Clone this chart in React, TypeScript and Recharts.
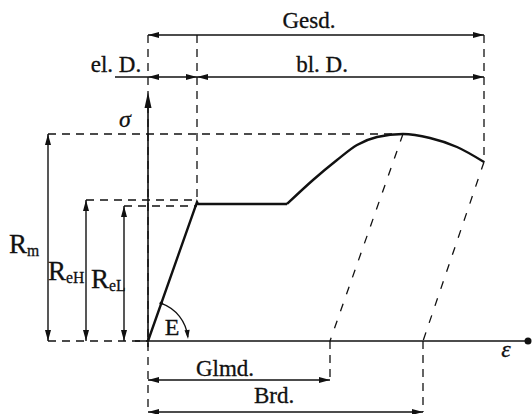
import { ComposedChart, Line, XAxis, YAxis, ReferenceLine, ReferenceDot } from 'recharts';

// Spannungs-Dehnungs-Diagramm (strain in arbitrary units, stress in arbitrary units)
const elasticStrain = [0, 4.9, 5.0, 13.9];
const elasticStress = [0, 139, 137, 137];

const hardeningStrain = [13.9, 16.5, 18.9, 20.9, 22.9, 25.5, 28.2, 30.9, 33.6];
const hardeningStress = [137, 161, 181, 196, 204, 207, 203, 194, 179];

// characteristic values
const R_M = 207;
const R_EH = 141;
const R_EL = 135;
const EPS_ELASTIC = 4.9;
const EPS_PEAK = 25.5;
const EPS_FRACTURE = 33.6;
const STRESS_FRACTURE = 179;
const EPS_UNIFORM = 18.2; // Gleichmaßdehnung
const EPS_BREAK = 27.5; // Bruchdehnung

// where the dimension lines sit
const LVL_GESD = 306;
const LVL_PARTS = 264;
const LVL_GLMD = -39;
const LVL_BRD = -71;
const X_RM = -10;
const X_REH = -6.2;
const X_REL = -2.4;

const elasticData = elasticStrain.map((eps, i) => ({ eps, sig: elasticStress[i] }));
const hardeningData = hardeningStrain.map((eps, i) => ({ eps, sig: hardeningStress[i] }));

const FONT = '"Liberation Serif", "Times New Roman", serif';
const INK = '#111';

function arrowHead(x: number, y: number, fx: number, fy: number, len = 11, w = 3) {
  const dx = x - fx;
  const dy = y - fy;
  const d = Math.hypot(dx, dy) || 1;
  const ux = dx / d;
  const uy = dy / d;
  const bx = x - ux * len;
  const by = y - uy * len;
  return `${x},${y} ${bx - uy * w},${by + ux * w} ${bx + uy * w},${by - ux * w}`;
}

function DimLine(props: any) {
  const { x1, y1, x2, y2, ends = 'both' } = props;
  return (
    <g>
      <line x1={x1} y1={y1} x2={x2} y2={y2} stroke={INK} strokeWidth={1.4} />
      {(ends === 'both' || ends === 'start') && (
        <polygon points={arrowHead(x1, y1, x2, y2)} fill={INK} />
      )}
      {(ends === 'both' || ends === 'end') && (
        <polygon points={arrowHead(x2, y2, x1, y1)} fill={INK} />
      )}
    </g>
  );
}

function AxisY(props: any) {
  const { x1, y1, x2, y2 } = props;
  return (
    <g>
      <line x1={x1} y1={y1} x2={x2} y2={y2 + 4} stroke={INK} strokeWidth={1.6} />
      <polygon points={arrowHead(x2, y2, x1, y1, 16, 3.5)} fill={INK} />
    </g>
  );
}

function AxisX(props: any) {
  const { x1, y1, x2, y2 } = props;
  return (
    <g>
      <line x1={x1} y1={y1} x2={x2} y2={y2} stroke={INK} strokeWidth={1.6} />
      <circle cx={x2} cy={y2} r={3.5} fill={INK} />
    </g>
  );
}

// E-modulus arc between Hooke line and strain axis
function ModulusArc(props: any) {
  const { x1, y1, x2, y2 } = props;
  const r = 40;
  const a0 = Math.atan2(y2 - y1, x2 - x1);
  const a1 = -0.1;
  const sx = x1 + r * Math.cos(a0);
  const sy = y1 + r * Math.sin(a0);
  const ex = x1 + r * Math.cos(a1);
  const ey = y1 + r * Math.sin(a1);
  const tx = -Math.sin(a1);
  const ty = Math.cos(a1);
  return (
    <g>
      <path d={`M${sx},${sy} A${r},${r} 0 0 1 ${ex},${ey}`} fill="none" stroke={INK} strokeWidth={1.3} />
      <circle cx={sx} cy={sy} r={1.8} fill={INK} />
      <polygon points={arrowHead(ex + tx * 2, ey + ty * 2, ex - tx * 5, ey - ty * 5, 9, 2.6)} fill={INK} />
    </g>
  );
}

const dashed = { stroke: INK, strokeWidth: 1.3, strokeDasharray: '8 6' };

function Label({ x, y, text, sub, size = 23, italic = false, anchor = 'middle' }: any) {
  return (
    <ReferenceDot
      x={x}
      y={y}
      r={0}
      ifOverflow="visible"
      shape={(p: any) => (
        <text
          x={p.cx}
          y={p.cy}
          textAnchor={anchor}
          fontFamily={FONT}
          fontSize={size}
          fontStyle={italic ? 'italic' : 'normal'}
          fill={INK}
          stroke={INK}
          strokeWidth={0.3}
        >
          {text}
          {sub && (
            <tspan fontSize={size * 0.58} dy={3}>
              {sub}
            </tspan>
          )}
        </text>
      )}
    />
  );
}

export default function App() {
  return (
    <div style={{ position: 'absolute', left: 0, top: 0, background: '#fff' }}>
      <ComposedChart width={532} height={414} margin={{ top: 0, right: 0, bottom: 0, left: 0 }}>
        <XAxis type="number" dataKey="eps" domain={[-14.8, 38.4]} hide allowDataOverflow />
        <YAxis type="number" dataKey="sig" domain={[-73, 341]} hide allowDataOverflow width={0} />

        {/* construction lines */}
        <ReferenceLine segment={[{ x: 0, y: LVL_GESD }, { x: 0, y: LVL_BRD }]} {...dashed} />
        <ReferenceLine segment={[{ x: EPS_ELASTIC, y: LVL_GESD }, { x: EPS_ELASTIC, y: R_EL + 2 }]} {...dashed} />
        <ReferenceLine segment={[{ x: EPS_FRACTURE, y: LVL_GESD }, { x: EPS_FRACTURE, y: STRESS_FRACTURE }]} {...dashed} />
        <ReferenceLine segment={[{ x: X_RM, y: R_M }, { x: EPS_PEAK, y: R_M }]} {...dashed} />
        <ReferenceLine segment={[{ x: X_REH, y: R_EH }, { x: EPS_ELASTIC, y: R_EH }]} {...dashed} />
        <ReferenceLine segment={[{ x: X_REL, y: R_EL }, { x: EPS_ELASTIC, y: R_EL }]} {...dashed} />
        <ReferenceLine segment={[{ x: X_RM, y: 0 }, { x: 0, y: 0 }]} {...dashed} />
        <ReferenceLine segment={[{ x: EPS_UNIFORM, y: 0 }, { x: EPS_UNIFORM, y: LVL_GLMD }]} {...dashed} />
        <ReferenceLine segment={[{ x: EPS_BREAK, y: 0 }, { x: EPS_BREAK, y: LVL_BRD }]} {...dashed} />
        <ReferenceLine segment={[{ x: EPS_PEAK, y: R_M }, { x: EPS_UNIFORM, y: 0 }]} stroke={INK} strokeWidth={1.3} strokeDasharray="8 10" />
        <ReferenceLine segment={[{ x: EPS_FRACTURE, y: STRESS_FRACTURE }, { x: EPS_BREAK, y: 0 }]} stroke={INK} strokeWidth={1.3} strokeDasharray="8 10" />

        {/* axes */}
        <ReferenceLine segment={[{ x: 0, y: -6 }, { x: 0, y: 249 }]} shape={(p: any) => <AxisY {...p} />} />
        <ReferenceLine segment={[{ x: -1.3, y: 0 }, { x: 38.0, y: 0 }]} shape={(p: any) => <AxisX {...p} />} />

        {/* dimension lines */}
        <ReferenceLine segment={[{ x: 0, y: LVL_GESD }, { x: EPS_FRACTURE, y: LVL_GESD }]} shape={(p: any) => <DimLine {...p} />} />
        <ReferenceLine segment={[{ x: -3.3, y: LVL_PARTS }, { x: 0, y: LVL_PARTS }]} stroke={INK} strokeWidth={1.3} />
        <ReferenceLine segment={[{ x: 0, y: LVL_PARTS }, { x: EPS_ELASTIC, y: LVL_PARTS }]} shape={(p: any) => <DimLine {...p} />} />
        <ReferenceLine segment={[{ x: EPS_ELASTIC, y: LVL_PARTS }, { x: EPS_FRACTURE, y: LVL_PARTS }]} shape={(p: any) => <DimLine {...p} />} />
        <ReferenceLine segment={[{ x: X_RM, y: 0 }, { x: X_RM, y: R_M }]} shape={(p: any) => <DimLine {...p} />} />
        <ReferenceLine segment={[{ x: X_REH, y: 0 }, { x: X_REH, y: R_EH }]} shape={(p: any) => <DimLine {...p} />} />
        <ReferenceLine segment={[{ x: X_REL, y: 0 }, { x: X_REL, y: R_EL }]} shape={(p: any) => <DimLine {...p} />} />
        <ReferenceLine segment={[{ x: 0, y: LVL_GLMD }, { x: EPS_UNIFORM, y: LVL_GLMD }]} shape={(p: any) => <DimLine {...p} />} />
        <ReferenceLine segment={[{ x: 0, y: LVL_BRD }, { x: EPS_BREAK, y: LVL_BRD }]} shape={(p: any) => <DimLine {...p} />} />
        <ReferenceLine segment={[{ x: 0, y: 0 }, { x: elasticStrain[1], y: elasticStress[1] }]} shape={(p: any) => <ModulusArc {...p} />} />

        {/* stress-strain curve */}
        <Line data={elasticData} dataKey="sig" type="linear" stroke={INK} strokeWidth={2.4} dot={false} activeDot={false} isAnimationActive={false} />
        <Line data={hardeningData} dataKey="sig" type="monotone" stroke={INK} strokeWidth={2.4} dot={false} activeDot={false} isAnimationActive={false} />

        {Label({ x: 16.1, y: 313, text: 'Gesd.' })}
        {Label({ x: -3.2, y: 269, text: 'el. D.' })}
        {Label({ x: 17.4, y: 269, text: 'bl. D.' })}
        {Label({ x: -2.3, y: 214, text: 'σ', italic: true, size: 24 })}
        {Label({ x: -13.9, y: 88, text: 'R', sub: 'm', anchor: 'start', size: 27 })}
        {Label({ x: -10.0, y: 61, text: 'R', sub: 'eH', anchor: 'start', size: 27 })}
        {Label({ x: -5.7, y: 53, text: 'R', sub: 'eL', anchor: 'start', size: 27 })}
        {Label({ x: 2.4, y: 6, text: 'E', size: 24 })}
        {Label({ x: 7.7, y: -35, text: 'Glmd.' })}
        {Label({ x: 12.6, y: -62, text: 'Brd.' })}
        {Label({ x: 35.8, y: -16, text: 'ε', italic: true, size: 24 })}
      </ComposedChart>
    </div>
  );
}
